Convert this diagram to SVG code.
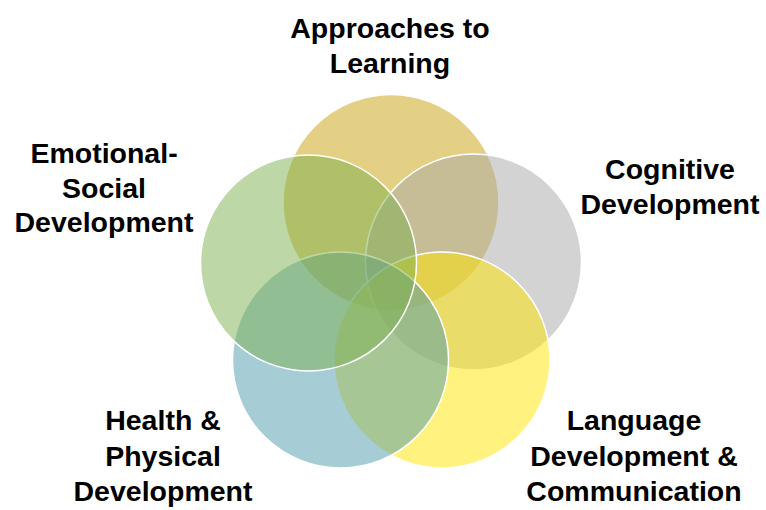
<svg xmlns="http://www.w3.org/2000/svg" width="766" height="510" viewBox="0 0 766 510">
<style>
.c{fill-opacity:0.5;stroke:#ffffff;stroke-width:1.5}
.t{font-family:"Liberation Sans",Arial,sans-serif;font-weight:bold;font-size:28.5px;fill:#000000;text-anchor:middle}
</style>
<rect width="766" height="510" fill="#ffffff"/>
<g id="approaches">
<circle class="c" cx="391" cy="202.5" r="108" fill="#c9a109"/>
<text class="t" x="390" y="38">Approaches to</text>
<text class="t" x="390" y="73">Learning</text>
</g>
<g id="cognitive">
<circle class="c" cx="473.5" cy="262" r="108" fill="#a7a7a7"/>
<text class="t" x="670" y="179">Cognitive</text>
<text class="t" x="670" y="214">Development</text>
</g>
<g id="language">
<circle class="c" cx="442" cy="360" r="108" fill="#ffe500"/>
<text class="t" x="634" y="430">Language</text>
<text class="t" x="634" y="465.5">Development &amp;</text>
<text class="t" x="634" y="501">Communication</text>
</g>
<g id="health">
<circle class="c" cx="340.5" cy="360" r="108" fill="#4d99ad"/>
<text class="t" x="163" y="430">Health &amp;</text>
<text class="t" x="163" y="465.5">Physical</text>
<text class="t" x="163" y="501">Development</text>
</g>
<g id="emotional">
<circle class="c" cx="308.5" cy="263" r="108" fill="#7baf4d"/>
<text class="t" x="104" y="163">Emotional-</text>
<text class="t" x="104" y="197.5">Social</text>
<text class="t" x="104" y="232">Development</text>
</g>
<g id="connectors"></g>
</svg>
